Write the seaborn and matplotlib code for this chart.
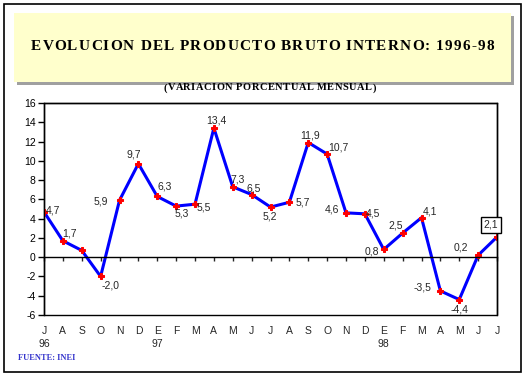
import numpy as np
import pandas as pd
import seaborn as sns
import matplotlib.pyplot as plt
from matplotlib.patches import Rectangle
from matplotlib.font_manager import FontProperties
from matplotlib.textpath import TextToPath

months = ["J", "A", "S", "O", "N", "D", "E", "F", "M", "A", "M", "J",
          "J", "A", "S", "O", "N", "D", "E", "F", "M", "A", "M", "J", "J"]
years = {0: "96", 6: "97", 18: "98"}
values = [4.7, 1.7, 0.7, -2.0, 5.9, 9.7, 6.3, 5.3, 5.5, 13.4, 7.3, 6.5,
          5.2, 5.7, 11.9, 10.7, 4.6, 4.5, 0.8, 2.5, 4.1, -3.5, -4.4, 0.2, 2.1]
yticks = list(range(-6, 17, 2))

title = "EVOLUCION DEL PRODUCTO BRUTO INTERNO: 1996-98"
subtitle = "(VARIACION PORCENTUAL MENSUAL)"
source = "FUENTE: INEI"

# label placement (pixels offset, horizontal alignment); None = no label
label_pos = [(2, 1, "left"), (-1, 7, "left"), None, (1, -9, "left"),
             (-11, -1, "right"), (-5, 9, "center"), (0, 10, "left"),
             (6, -7, "center"), (2, -3, "left"), (2, 8, "center"),
             (-2, 7, "left"), (-5, 6, "left"), (-1, -9, "center"),
             (6, 0, "left"), (2, 7, "center"), (1, 7, "left"),
             (-7, 3, "right"), (1, 0, "left"), (-5, -2, "right"),
             (0, 8, "right"), (1, 6, "left"), (-9, 3, "right"),
             (0, -10, "center"), (-10, 8, "right"), (-6, 12, "center")]

df = pd.DataFrame({"idx": np.arange(len(values)), "val": values})

sns.set_style("white")
plt.rcParams["font.family"] = ["Liberation Sans", "DejaVu Sans"]
plt.rcParams["axes.unicode_minus"] = False

fig = plt.figure(figsize=(5.28, 3.77), dpi=100)
W, H = 528, 377
ttp = TextToPath()


def fig_rect(x, y, w, h, **kw):
    # rectangle given in pixel coords from top-left
    return Rectangle((x / W, 1 - (y + h) / H), w / W, h / H,
                     transform=fig.transFigure, **kw)


def tracked_text(s, x0, x1, y, size, weight="normal", color="black"):
    # spread characters of s evenly between pixel x0 and x1
    prop = FontProperties(family="Liberation Serif", size=size, weight=weight)
    px = 100 / 72
    total = ttp.get_text_width_height_descent(s, prop, ismath=False)[0] * px
    gap = (x1 - x0 - total) / (len(s) - 1)
    bar = ttp.get_text_width_height_descent("|", prop, ismath=False)[0]
    for i, c in enumerate(s):
        pre = ttp.get_text_width_height_descent(s[:i] + "|", prop, ismath=False)[0]
        x = x0 + (pre - bar) * px + i * gap
        fig.text(x / W, 1 - y / H, c, ha="left", va="center_baseline",
                 fontproperties=prop, color=color)


fig.patches.append(fig_rect(4, 4, 517, 368, fill=False, lw=1.2, ec="black"))
fig.patches.append(fig_rect(17, 16, 497, 69, fc="#a0a0a0", ec="none"))
fig.patches.append(fig_rect(14, 13, 497, 69, fc="#ffffcc", ec="none"))

tracked_text(title, 31, 494, 45, 11, weight="bold")
tracked_text(subtitle, 164, 376, 87, 7.5, weight="bold")
fig.text(18 / W, 1 - 358 / H, source, ha="left", va="center",
         fontsize=6, fontweight="bold", color="#3333cc",
         family="Liberation Serif")

ax = fig.add_axes([44 / W, 62 / H, 453 / W, 212 / H])
sns.lineplot(data=df, x="idx", y="val", color="#0000ff", lw=2.2,
             marker="P", markersize=4, markerfacecolor="red",
             markeredgecolor="red", ax=ax)

ax.set_xlim(0, len(values) - 1)
ax.set_ylim(-6, 16)
ax.set_yticks(yticks)
ax.set_xticks(df["idx"])
ax.set_xlabel("")
ax.set_ylabel("")
ax.tick_params(axis="y", direction="out", length=4, width=1, labelsize=7.5,
               pad=2, left=True, colors="black")
ax.tick_params(axis="x", direction="out", length=3, width=1,
               labelbottom=False, bottom=True)
ax.spines["bottom"].set_position(("data", 0))
for s in ax.spines.values():
    s.set_linewidth(1)
    s.set_color("black")
ax.add_patch(Rectangle((0, 0), 1, 1, transform=ax.transAxes, fill=False,
                       lw=1, ec="black", clip_on=False))

for i, m in enumerate(months):
    ax.annotate(m, (i, 0), xycoords=("data", "axes fraction"),
                xytext=(0, -16), textcoords="offset pixels",
                ha="center", va="center", fontsize=7.5)
    if i in years:
        ax.annotate(years[i], (i, 0), xycoords=("data", "axes fraction"),
                    xytext=(0, -29), textcoords="offset pixels",
                    ha="center", va="center", fontsize=7.5)

for i, v in enumerate(values):
    pos = label_pos[i]
    if pos is None:
        continue
    dx, dy, ha = pos
    box = None
    if i == len(values) - 1:
        box = dict(boxstyle="square,pad=0.3", fc="white", ec="black", lw=1)
    ax.annotate(f"{v:.1f}".replace(".", ","), (i, v), xytext=(dx, dy),
                textcoords="offset pixels", ha=ha, va="center",
                fontsize=7.5, bbox=box, annotation_clip=False)

fig.savefig("out.png", dpi=100)
